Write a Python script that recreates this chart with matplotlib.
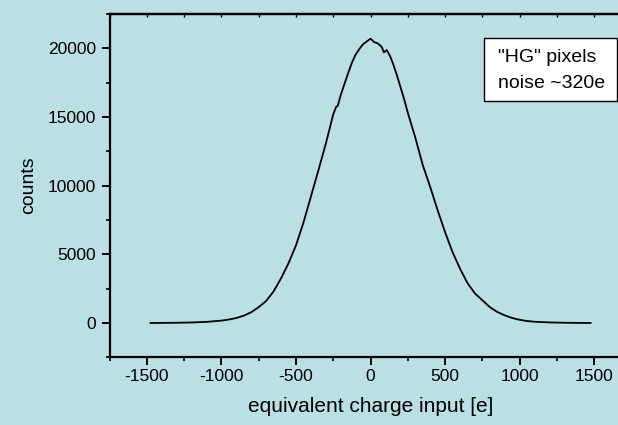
import numpy as np
import matplotlib
matplotlib.use("Agg")
import matplotlib.pyplot as plt
from matplotlib.patches import Rectangle
from matplotlib.ticker import MultipleLocator

# Data
charge = [-1475, -1400, -1300, -1200, -1100, -1000, -950, -900, -850, -800,
          -750, -700, -650, -600, -550, -500, -450, -400, -350, -300,
          -250, -230, -220, -200, -150, -125, -100, -75, -50, -25,
          0, 25, 50, 75, 90, 108, 130, 150, 175, 200,
          225, 250, 275, 300, 350, 400, 450, 500, 550, 600,
          650, 700, 750, 800, 850, 900, 950, 1000, 1050, 1100,
          1200, 1300, 1400, 1475]
counts = [0, 5, 15, 35, 80, 170, 250, 360, 530, 780,
          1150, 1600, 2300, 3250, 4350, 5650, 7300, 9200, 11100, 13050,
          15200, 15750, 15800, 16600, 18200, 18950, 19550, 19950, 20300, 20500,
          20700, 20450, 20350, 20100, 19700, 19880, 19450, 18900, 18100, 17200,
          16300, 15300, 14400, 13500, 11500, 9900, 8200, 6600, 5150, 3950,
          2900, 2150, 1650, 1150, 800, 550, 360, 230, 140, 90,
          40, 15, 5, 0]
legend_lines = ['"HG" pixels', 'noise ~320e']

BG = "#BAE0E4"
W, H = 618, 425
plt.rcParams['font.family'] = ['Liberation Sans', 'DejaVu Sans']
plt.rcParams['axes.unicode_minus'] = False

fig = plt.figure(figsize=(W / 100, H / 100), dpi=100, facecolor=BG)
x0, x1, ytop, ybot = 109.5, 631.6, 14, 357.3
ax = fig.add_axes([x0 / W, (H - ybot) / H, (x1 - x0) / W, (ybot - ytop) / H])
ax.set_facecolor(BG)
ax.plot(charge, counts, color="black", lw=1.3)

ax.set_xlim(-1750, 1750)
ax.set_ylim(-2500, 22500)
ax.xaxis.set_major_locator(MultipleLocator(500))
ax.xaxis.set_minor_locator(MultipleLocator(250))
ax.yaxis.set_major_locator(MultipleLocator(5000))
ax.yaxis.set_minor_locator(MultipleLocator(2500))
ax.set_yticks(range(0, 20001, 5000))

for s in ['left', 'bottom', 'top']:
    ax.spines[s].set_linewidth(1.6)
ax.spines['right'].set_visible(False)

ax.tick_params(which='major', direction='out', length=5.5, width=1.4,
               labelsize=12.5, colors='black')
ax.tick_params(which='minor', direction='out', length=3, width=1.2)
ax.tick_params(axis='x', which='major', pad=3)
ax.tick_params(axis='y', which='major', pad=4)

sec = ax.secondary_xaxis('top')
sec.set_xticks(np.arange(-1750, 1751, 250))
sec.tick_params(direction='in', length=2.5, width=1.0, labeltop=False)
sec.spines['top'].set_linewidth(1.6)

ax.set_xlabel("equivalent charge input [e]", fontsize=15, labelpad=9)
ax.set_ylabel("counts", fontsize=14, labelpad=8)

# legend box
bx0, bx1, by0, by1 = 484, 617, 38.3, 101
fig.add_artist(Rectangle((bx0 / W, (H - by1) / H), (bx1 - bx0) / W, (by1 - by0) / H,
                         transform=fig.transFigure, facecolor='white',
                         edgecolor='black', lw=1.0))
for txt, yc in zip(legend_lines, [57.5, 84]):
    fig.text(498 / W, (H - yc) / H, txt, fontsize=14, ha='left', va='center')

fig.savefig("out.png", dpi=100, facecolor=BG)
